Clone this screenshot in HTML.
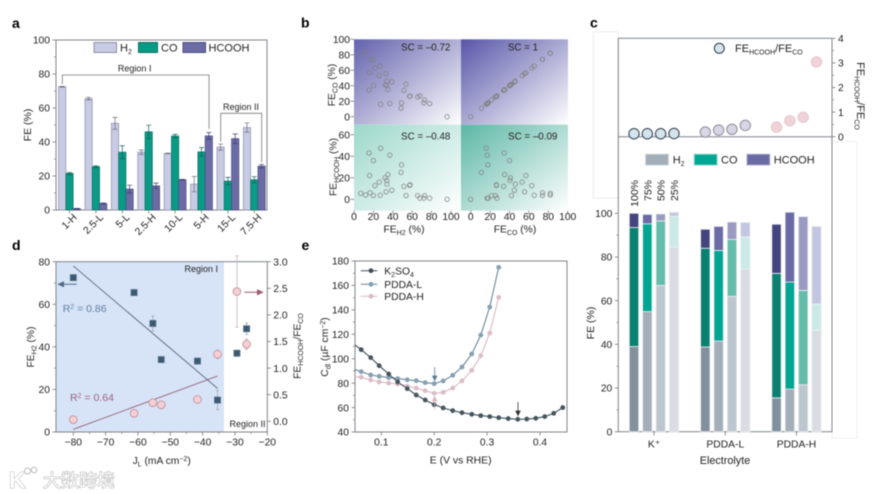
<!DOCTYPE html>
<html lang="en">
<head>
<meta charset="utf-8">
<title>Electrocatalysis figure panels</title>
<style>
html,body{margin:0;padding:0;background:#fff;width:875px;height:494px;overflow:hidden}
svg{display:block;filter:blur(0.5px)}
text{font-family:"Liberation Sans","Noto Sans CJK SC",sans-serif;fill:#222;font-size:10px}
.pl{font-weight:bold;font-size:14px;fill:#000}
.sub{font-size:7px}
.frame{fill:none;stroke:#7f8489;stroke-width:1}
</style>
</head>
<body>
<svg id="fig" xmlns="http://www.w3.org/2000/svg" width="875" height="494" viewBox="0 0 875 494">
<defs>
<linearGradient id="gTL" x1="0" y1="0" x2="1" y2="1"><stop offset="0" stop-color="#6462ad"/><stop offset="1" stop-color="#fff"/></linearGradient>
<linearGradient id="gTR" x1="0" y1="0" x2="1" y2="1"><stop offset="0" stop-color="#5856a8"/><stop offset="1" stop-color="#fff"/></linearGradient>
<linearGradient id="gBL" x1="0" y1="0" x2="1" y2="1"><stop offset="0" stop-color="#9dd8cb"/><stop offset="1" stop-color="#fff"/></linearGradient>
<linearGradient id="gBR" x1="0" y1="0" x2="1" y2="1"><stop offset="0" stop-color="#5cb7a5"/><stop offset="1" stop-color="#fff"/></linearGradient>
<clipPath id="clipE"><rect x="355" y="261" width="212" height="171"/></clipPath>
</defs>

<!-- Panel labels -->
<text class="pl" x="12" y="28">a</text>
<text class="pl" x="301" y="27.5">b</text>
<text class="pl" x="590" y="27.5">c</text>
<text class="pl" x="12" y="250">d</text>
<text class="pl" x="301.5" y="250">e</text>

<!-- Panel a -->
<g id="panelA">
<rect class="frame" x="56" y="40" width="211" height="170"/>
<text transform="translate(31,125) rotate(-90)" text-anchor="middle" style="font-size:10.5px">FE (%)</text>
<rect x="94" y="42.5" width="22.5" height="10" fill="#c8cbe4" stroke="#8d90a8"/>
<text x="120" y="51.5" style="font-size:11px">H<tspan class="sub" dy="2.5">2</tspan></text>
<rect x="138.5" y="42.5" width="19" height="10" fill="#0a9b86" stroke="#0d6e60"/>
<text x="161" y="51.5" style="font-size:11px">CO</text>
<rect x="183" y="42.5" width="22.5" height="10" fill="#6b6ca6" stroke="#4d4d80"/>
<text x="208.5" y="51.5" style="font-size:11px">HCOOH</text>
<path d="M62.3 84.3V75H209V129" fill="none" stroke="#777" stroke-width="0.8"/>
<path d="M220.7 141.7V113.3H261.7V162.3" fill="none" stroke="#777" stroke-width="0.8"/>
<text x="134.7" y="71.3" text-anchor="middle" style="font-size:9px">Region I</text>
<text x="241" y="110" text-anchor="middle" style="font-size:9px">Region II</text>
</g>

<!-- Panel b -->
<g id="panelB">
<rect x="354" y="39.3" width="107" height="85.4" fill="url(#gTL)"/>
<rect x="461" y="39.3" width="107" height="85.4" fill="url(#gTR)"/>
<rect x="354" y="124.7" width="107" height="86" fill="url(#gBL)"/>
<rect x="461" y="124.7" width="107" height="86" fill="url(#gBR)"/>
<text x="425.7" y="50.7" text-anchor="middle" style="font-size:9.8px">SC = –0.72</text>
<text x="523" y="50.7" text-anchor="middle" style="font-size:9.8px">SC = 1</text>
<text x="425.7" y="139.3" text-anchor="middle" style="font-size:9.8px">SC = –0.48</text>
<text x="532.7" y="139.3" text-anchor="middle" style="font-size:9.8px">SC = –0.09</text>
<text x="404" y="232.5" text-anchor="middle" style="font-size:10.3px">FE<tspan class="sub" dy="2.5">H2</tspan><tspan dy="-2.5"> (%)</tspan></text>
<text x="515" y="232.5" text-anchor="middle" style="font-size:10.3px">FE<tspan class="sub" dy="2.5">CO</tspan><tspan dy="-2.5"> (%)</tspan></text>
<text transform="translate(335,85) rotate(-90)" text-anchor="middle" style="font-size:10.3px">FE<tspan class="sub" dy="2.5">CO</tspan><tspan dy="-2.5"> (%)</tspan></text>
<text transform="translate(336.5,167) rotate(-90)" text-anchor="middle" style="font-size:10.3px">FE<tspan class="sub" dy="2.5">HCOOH</tspan><tspan dy="-2.5"> (%)</tspan></text>
</g>

<!-- Panel c -->
<g id="panelC">
<rect x="593.3" y="31.7" width="25" height="166.3" fill="none" stroke="#ececec"/>
<rect x="832" y="141.7" width="25" height="296.3" fill="none" stroke="#f0f0f0"/>
<rect class="frame" x="618.3" y="38.3" width="213.7" height="393.4"/>
<line class="frame" x1="618.3" y1="136.7" x2="832" y2="136.7"/>
<circle cx="719.3" cy="48.3" r="5" fill="#d5e3ea" stroke="#2d3e50"/>
<text x="735" y="52" style="font-size:11px">FE<tspan class="sub" dy="2.5">HCOOH</tspan><tspan dy="-2.5">/FE</tspan><tspan class="sub" dy="2.5">CO</tspan></text>
<text transform="translate(857,96) rotate(90)" text-anchor="middle" style="font-size:11px">FE<tspan class="sub" dy="2.5">HCOOH</tspan><tspan dy="-2.5">/FE</tspan><tspan class="sub" dy="2.5">CO</tspan></text>
<rect x="645.7" y="154.3" width="22.6" height="10.7" fill="#a3aeb8" stroke="#c5ccd3"/>
<text x="672.7" y="163.5" style="font-size:11px">H<tspan class="sub" dy="2.5">2</tspan></text>
<rect x="694.3" y="154.3" width="22.7" height="10.7" fill="#00a692" stroke="#7fcfc4"/>
<text x="721" y="163.5" style="font-size:11px">CO</text>
<rect x="747" y="154.3" width="22.7" height="10.7" fill="#6a6aa4" stroke="#a8a8cc"/>
<text x="773.7" y="163.5" style="font-size:11px">HCOOH</text>
<text transform="translate(594,323) rotate(-90)" text-anchor="middle" style="font-size:10.5px">FE (%)</text>
<text x="725" y="464" text-anchor="middle" style="font-size:10.8px">Electrolyte</text>
</g>

<!-- Panel d -->
<g id="panelD">
<rect x="56" y="261.7" width="168" height="170.3" fill="#d7e4f8"/>
<rect class="frame" x="56" y="261.7" width="211.3" height="170.3"/>
<text x="218" y="272" text-anchor="end" style="font-size:9px">Region I</text>
<text x="265.5" y="427" text-anchor="end" style="font-size:9px">Region II</text>
<text x="62.7" y="312" style="font-size:10.5px;fill:#5f7f9f">R<tspan class="sub" dy="-3">2</tspan><tspan dy="3"> = 0.86</tspan></text>
<text x="70" y="401" style="font-size:10.5px;fill:#9c5f7f">R<tspan class="sub" dy="-3">2</tspan><tspan dy="3"> = 0.64</tspan></text>
<path d="M76.7 284.3H60M63.5 282L58.5 284.3L63.5 286.6Z" fill="#4d6a85" stroke="#4d6a85"/>
<path d="M244.3 292.3H261M257.5 290L262.5 292.3L257.5 294.6Z" fill="#9b5a70" stroke="#9b5a70"/>
<text transform="translate(34,347) rotate(-90)" text-anchor="middle" style="font-size:10.3px">FE<tspan class="sub" dy="2.5">H2</tspan><tspan dy="-2.5"> (%)</tspan></text>
<text transform="translate(300.5,346) rotate(-90)" text-anchor="middle" style="font-size:10.3px">FE<tspan class="sub" dy="2.5">HCOOH</tspan><tspan dy="-2.5">/FE</tspan><tspan class="sub" dy="2.5">CO</tspan></text>
<text x="161.7" y="464" text-anchor="middle" style="font-size:10.3px">J<tspan class="sub" dy="2.5">L</tspan><tspan dy="-2.5"> (mA cm</tspan><tspan class="sub" dy="-3">−2</tspan><tspan dy="3">)</tspan></text>
</g>

<!-- Panel e -->
<g id="panelE">
<rect class="frame" x="355" y="261" width="212" height="171"/>
<text transform="translate(328,347) rotate(-90)" text-anchor="middle" style="font-size:10.3px">C<tspan class="sub" dy="2.5">dl</tspan><tspan dy="-2.5"> (µF cm</tspan><tspan class="sub" dy="-3">−2</tspan><tspan dy="3">)</tspan></text>
<text x="460.7" y="463.5" text-anchor="middle" style="font-size:10.4px">E (V vs RHE)</text>
<text x="384.3" y="274.5" style="font-size:10.3px">K<tspan class="sub" dy="2.5">2</tspan><tspan dy="-2.5">SO</tspan><tspan class="sub" dy="2.5">4</tspan></text>
<text x="384.3" y="288" style="font-size:10.3px">PDDA-L</text>
<text x="384.3" y="300" style="font-size:10.3px">PDDA-H</text>
<path d="M360.7 270.7H377.3" stroke="#3f4f5c"/>
<circle cx="371" cy="270.7" r="2.4" fill="#3f4f5c"/>
<path d="M360.7 284.3H377.3" stroke="#6a8799"/>
<circle cx="371" cy="284.3" r="2.4" fill="#85a0b2"/>
<path d="M360.7 296.3H377.3" stroke="#d9b9c2"/>
<circle cx="371" cy="296.3" r="2.4" fill="#d9b9c2"/>
</g>

<!-- Watermark -->
<g>
<text x="9" y="488" style="font-size:23px;font-weight:bold;fill:#fff;stroke:#bbb;stroke-width:1.1;paint-order:stroke">K</text>
<circle cx="27.5" cy="471" r="3" fill="#fff" stroke="#bbb"/>
<circle cx="34" cy="470" r="2.8" fill="#fff" stroke="#bbb"/>
<text x="43" y="487" style="font-size:18px;fill:#fff;stroke:#b4b4b4;stroke-width:1.1;paint-order:stroke">大数跨境</text>
</g>
</svg>

<script>
/* ---------- Panel a data ---------- */
const aCategories = ['1-H','2.5-L','5-L','2.5-H','10-L','5-H','15-L','7.5-H'];
const aH2 = [72.5,65.5,51,34,33.3,15.2,37,48.5];
const aCO = [21.5,25.5,34,46,43.5,34.2,17,17.8];
const aHCOOH = [0.8,3.8,12.3,14.2,17.8,43.6,42,25.8];
const aH2Err = [0.2,0.8,3.5,1.3,0.2,4.5,1.8,2.7];
const aCOErr = [0.6,0.5,3.8,3.9,1,2.5,2.2,1.8];
const aHCOOHErr = [0.2,0.3,2.3,1.6,0.2,2,2.8,1];
const aYTicks = [0,20,40,60,80,100];

/* ---------- Panel b data ---------- */
const bFeH2 = [7,12,16.5,20,16,21.6,27,26,33,34,32,39,33.7,35,15.5,20,27.5,37,53.6,51.5,49,48.5,57.4,57.8,65.6,68,72.8,72,78,96];
const bFeCO = [82,82,74,74,57,63,65.5,53,55.6,46,41,45,40.5,35,34.5,40,16,17,42,34,17.7,11,26.5,26.5,25.5,27,21.5,18,17,0];
const bFeHCOOH = [5.6,4,6,3.5,22,12.7,3.7,16,7,14,20,8.4,17.5,23,43,36,47.5,41,3.5,12,32,25,13,13.5,3.5,1,3.5,1,1,0];
const bXTicks = [0,20,40,60,80,100];
const bYTicksTop = [0,20,40,60,80,100];
const bYTicksBottom = [0,20,40,60];

/* ---------- Panel c data ---------- */
const cGroups = ['K⁺','PDDA-L','PDDA-H'];
const cLoadings = ['100%','75%','50%','25%'];
const cH2 = [[39,55,67,84.5],[38.8,41.5,62,74.5],[15.5,19.5,21.5,46.5]];
const cCO = [[54.5,40.2,29.5,14.2],[45.2,41.5,26,14.7],[57,49,43.2,12]];
const cHCOOH = [[6.5,4.3,3.2,1.8],[8.7,11,8,6.6],[22.5,32,33.8,35.5]];
const cRatio = [[0.12,0.12,0.12,0.13],[0.19,0.27,0.3,0.46],[0.39,0.65,0.79,3.04]];
const cRatioTicks = [0,1,2,3,4];
const cFeTicks = [0,20,40,60,80,100];

/* ---------- Panel d data ---------- */
const dJL = [-80,-61.2,-55.4,-52.8,-41.6,-35.4,-29.4,-26.4];
const dFeH2 = [72.5,65.5,51,34,33.3,15,37,48.5];
const dFeH2Err = [0.5,0.8,3.5,1.3,0.5,4.5,1,2.7];
const dRatio = [0.03,0.15,0.35,0.31,0.41,1.26,2.44,1.45];
const dRatioErr = [0.02,0.05,0.03,0.03,0.05,0.08,0.67,0.1];
const dFitH2J = [-80,-35.4];
const dFitH2 = [78,20.5];
const dFitRatioJ = [-80,-35.4];
const dFitRatio = [-0.15,0.85];
const dXTicks = [-80,-70,-60,-50,-40,-30,-20];
const dYLeftTicks = [0,20,40,60,80];
const dYRightTicks = [0,0.5,1,1.5,2,2.5,3];

/* ---------- Panel e data ---------- */
const eK2E = [0.045,0.062,0.08,0.096,0.114,0.131,0.149,0.166,0.183,0.2,0.217,0.235,0.2525,0.271,0.288,0.305,0.322,0.34,0.358,0.375,0.392,0.409,0.426,0.443];
const eK2 = [113,107.4,100.9,94.3,87.5,81,75.5,70.3,66.2,62.4,59.7,57.5,55.8,54.5,53.4,52.6,51.7,51,50.4,50.6,51.2,52.6,55.3,60];
const ePddaE = [0.045,0.062,0.08,0.096,0.114,0.131,0.149,0.166,0.183,0.2,0.217,0.235,0.2525,0.271,0.288,0.305,0.322];
const ePddaL = [92,89.4,86.7,85.6,84.5,83.7,82.8,82,80.4,79.6,81.8,86.4,93.2,103.9,119.4,142.3,174.8];
const ePddaH = [86,84.8,82.6,81,80,79.3,77.5,76,73.8,71.7,72.5,76,81.8,90.5,102.5,121,150.3];
const eXTicks = [0.1,0.2,0.3,0.4];
const eYTicks = [40,60,80,100,120,140,160,180];

/* ---------- helpers ---------- */
const NS = 'http://www.w3.org/2000/svg';
function mk(tag, attrs, parent, text) {
  const el = document.createElementNS(NS, tag);
  for (const k in attrs) el.setAttribute(k, attrs[k]);
  if (text !== undefined) el.textContent = text;
  parent.appendChild(el);
  return el;
}
function linear(d0, d1, r0, r1) {
  return v => r0 + (v - d0) * (r1 - r0) / (d1 - d0);
}
const TICK = '#777';
function yTicks(parent, vals, scale, axisX, dir, fmt, minorStep, gap) {
  const labelGap = gap || 6;
  vals.forEach(v => {
    const y = scale(v);
    const t = mk('line', {x1: axisX, x2: axisX + dir * 3.5, y1: y, y2: y, stroke: TICK, 'stroke-width': 0.8}, parent);
    
    
    const lab = mk('text', {x: axisX + dir * labelGap, y: y + 3.7, 'text-anchor': dir < 0 ? 'end' : 'start', style: 'font-size:10.3px'}, parent, fmt ? fmt(v) : String(v));
    
    
    if (minorStep && v !== vals[vals.length - 1]) {
      const ym = scale(v + minorStep);
      const m = mk('line', {x1: axisX, x2: axisX + dir * 2, y1: ym, y2: ym, stroke: TICK, 'stroke-width': 0.7}, parent);
      
      
    }
  });
}
function xTicks(parent, vals, scale, axisY, labelY, fmt, minorStep) {
  vals.forEach((v, i) => {
    const x = scale(v);
    const t = mk('line', {x1: x, x2: x, y1: axisY, y2: axisY + 3.5, stroke: TICK, 'stroke-width': 0.8}, parent);
    
    
    const lab = mk('text', {x: x, y: labelY, 'text-anchor': 'middle', style: 'font-size:10.3px'}, parent, fmt ? fmt(v) : String(v));
    
    
    if (minorStep && i < vals.length - 1) {
      const xm = scale(v + minorStep);
      const m = mk('line', {x1: xm, x2: xm, y1: axisY, y2: axisY + 2, stroke: TICK, 'stroke-width': 0.7}, parent);
      
      
    }
  });
}
function errorBar(parent, x, yHi, yLo, color, cap) {
  const e = mk('path', {d: `M${x - cap} ${yHi}H${x + cap}M${x} ${yHi}V${yLo}M${x - cap} ${yLo}H${x + cap}`, fill: 'none', stroke: color, 'stroke-width': 0.7}, parent);
  
  
}

/* ---------- Panel a ---------- */
(function () {
  const g = document.getElementById('panelA');
  const y = linear(0, 100, 210, 40);
  const x = i => 69.5 + 26.4 * i;
  yTicks(g, aYTicks, y, 56, -1, null, 10);
  const w = 7.3;
  aCategories.forEach((c, i) => {
    const cx = x(i);
    const h2 = mk('rect', {x: cx - 1.5 * w, y: y(aH2[i]), width: w, height: y(0) - y(aH2[i]), fill: '#c8cbe4', stroke: '#8d90a8', 'stroke-width': 0.7}, g);
    
    
    const co = mk('rect', {x: cx - 0.5 * w, y: y(aCO[i]), width: w, height: y(0) - y(aCO[i]), fill: '#0a9b86', stroke: '#0d6e60', 'stroke-width': 0.7}, g);
    
    
    const hc = mk('rect', {x: cx + 0.5 * w, y: y(aHCOOH[i]), width: w, height: y(0) - y(aHCOOH[i]), fill: '#6b6ca6', stroke: '#4d4d80', 'stroke-width': 0.7}, g);
    
    
    errorBar(g, cx - w, y(aH2[i] + aH2Err[i]), y(aH2[i] - aH2Err[i]), '#6c6f80', 2.5);
    errorBar(g, cx, y(aCO[i] + aCOErr[i]), y(aCO[i] - aCOErr[i]), '#0f5f55', 2.5);
    errorBar(g, cx + w, y(aHCOOH[i] + aHCOOHErr[i]), y(aHCOOH[i] - aHCOOHErr[i]), '#3d3d70', 2.5);
    const t = mk('line', {x1: cx, x2: cx, y1: 210, y2: 213.5, stroke: TICK, 'stroke-width': 0.8}, g);
    
    
    const lab = mk('text', {transform: `translate(${cx + 8},${218}) rotate(-45)`, 'text-anchor': 'end', style: 'font-size:10.3px'}, g, c);
    
    
  });
})();

/* ---------- Panel b ---------- */
(function () {
  const g = document.getElementById('panelB');
  const xL = linear(0, 100, 354, 451);
  const xR = linear(0, 100, 470.7, 567.7);
  const yT = linear(0, 100, 116.7, 39.3);
  const yB = linear(0, 60, 199.3, 134.7);
  const ptStyle = {r: 2.2, fill: 'none', stroke: '#7f7f7f', 'stroke-width': 0.75};
  bFeH2.forEach((v, i) => {
    const p1 = mk('circle', Object.assign({cx: xL(bFeH2[i]), cy: yT(bFeCO[i])}, ptStyle), g);
    
    
    const p2 = mk('circle', Object.assign({cx: xR(bFeCO[i]), cy: yT(bFeCO[i])}, ptStyle), g);
    
    
    const p3 = mk('circle', Object.assign({cx: xL(bFeH2[i]), cy: yB(bFeHCOOH[i])}, ptStyle), g);
    
    
    const p4 = mk('circle', Object.assign({cx: xR(bFeCO[i]), cy: yB(bFeHCOOH[i])}, ptStyle), g);
    
    
  });
  yTicks(g, bYTicksTop, yT, 354, -1, null, null, 4);
  yTicks(g, bYTicksBottom, yB, 354, -1, null, null, 4);
  xTicks(g, bXTicks, xL, 210.7, 219.8);
  xTicks(g, bXTicks, xR, 210.7, 219.8);
})();

/* ---------- Panel c ---------- */
(function () {
  const g = document.getElementById('panelC');
  const yF = linear(0, 100, 431.7, 213.3);
  const yR = linear(0, 4, 136.7, 38.3);
  const groupX = [654, 725.3, 796.5];
  const offs = [-20, -6.67, 6.67, 20];
  const x = (gi, bi) => groupX[gi] + offs[bi];
  const h2Col = ['#82909e', '#a3aeb8', '#bcc6cf', '#d9dde2'];
  const coCol = ['#0a8170', '#00a692', '#64bcab', '#cbeae6'];
  const hcCol = ['#44447f', '#6a6aa4', '#9a9ac2', '#c3c6e0'];
  const edge = '#eceef2';
  const w = 9.4;
  const ratioFill = ['#d5e3ea', '#d8d6e2', '#f0d3d9'];
  const ratioStroke = ['#2d3e50', '#8d8d9f', '#e6c6ce'];
  cGroups.forEach((name, gi) => {
    cLoadings.forEach((load, bi) => {
      const cx = x(gi, bi);
      const top1 = cH2[gi][bi];
      const top2 = top1 + cCO[gi][bi];
      const top3 = top2 + cHCOOH[gi][bi];
      const b1 = mk('rect', {x: cx - w / 2, y: yF(top1), width: w, height: yF(0) - yF(top1), fill: h2Col[bi], stroke: edge, 'stroke-width': 0.8}, g);
      
      
      const b2 = mk('rect', {x: cx - w / 2, y: yF(top2), width: w, height: yF(top1) - yF(top2), fill: coCol[bi], stroke: edge, 'stroke-width': 0.8}, g);
      
      
      const b3 = mk('rect', {x: cx - w / 2, y: yF(top3), width: w, height: yF(top2) - yF(top3), fill: hcCol[bi], stroke: edge, 'stroke-width': 0.8}, g);
      
      
      const r = mk('circle', {cx: cx, cy: yR(cRatio[gi][bi]), r: 5.2, fill: ratioFill[gi], stroke: ratioStroke[gi], 'stroke-width': 1}, g);
      
      
      if (gi === 0) {
        const l = mk('text', {transform: `translate(${cx + 4},180) rotate(-90)`, 'text-anchor': 'end', style: 'font-size:10.5px'}, g, load);
        
        
      }
    });
    const t = mk('line', {x1: groupX[gi], x2: groupX[gi], y1: 431.7, y2: 435.5, stroke: TICK, 'stroke-width': 0.8}, g);
    
    
    const lab = mk('text', {x: groupX[gi], y: 447.5, 'text-anchor': 'middle', style: 'font-size:10.3px'}, g, name);
    
    
  });
  yTicks(g, cFeTicks, yF, 618.3, -1, null, 10);
  yTicks(g, cRatioTicks, yR, 832, 1, null, 0.5);
})();

/* ---------- Panel d ---------- */
(function () {
  const g = document.getElementById('panelD');
  const x = linear(-80, -20, 73.3, 267.3);
  const yL = linear(0, 80, 432, 261.7);
  const yR = linear(0, 3, 421.3, 261.7);
  dJL.forEach((j, i) => {
    errorBar(g, x(j), yL(dFeH2[i] + dFeH2Err[i]), yL(dFeH2[i] - dFeH2Err[i]), '#9aa3ab', 1.5);
    errorBar(g, x(j), yR(dRatio[i] + dRatioErr[i]), yR(dRatio[i] - dRatioErr[i]), '#b7aeb2', 1.5);
  });
  const fit1 = mk('line', {x1: x(dFitH2J[0]), y1: yL(dFitH2[0]), x2: x(dFitH2J[1]), y2: yL(dFitH2[1]), stroke: '#55687f', 'stroke-width': 0.9}, g);
  
  
  const fit2 = mk('line', {x1: x(dFitRatioJ[0]), y1: yR(dFitRatio[0]), x2: x(dFitRatioJ[1]), y2: yR(dFitRatio[1]), stroke: '#94607a', 'stroke-width': 0.9}, g);
  
  
  dJL.forEach((j, i) => {
    const c = mk('circle', {cx: x(j), cy: yR(dRatio[i]), r: 3.9, fill: '#f6cfd5', stroke: '#b98a95', 'stroke-width': 0.8}, g);
    
    
    const s = mk('rect', {x: x(j) - 3.2, y: yL(dFeH2[i]) - 3.2, width: 6.4, height: 6.4, fill: '#3d5a73', stroke: '#6d8499', 'stroke-width': 0.5}, g);
    
    
  });
  xTicks(g, dXTicks, x, 432, 445.7, v => String(v).replace('-', '−'), 5);
  yTicks(g, dYLeftTicks, yL, 56, -1, null, 10);
  yTicks(g, dYRightTicks, yR, 267.3, 1, v => v.toFixed(1));
})();

/* ---------- Panel e ---------- */
(function () {
  const g = document.getElementById('panelE');
  const x = linear(0.1, 0.4, 381.3, 540);
  const y = linear(40, 180, 432, 261);
  const clip = mk('g', {'clip-path': 'url(#clipE)'}, g);
  
  
  function path(es, vs) {
    return es.map((e, i) => (i ? 'L' : 'M') + x(e).toFixed(1) + ' ' + y(vs[i]).toFixed(1)).join('');
  }
  const l3 = mk('path', {d: path(ePddaE, ePddaH), fill: 'none', stroke: '#d9b9c2', 'stroke-width': 1.1}, clip);
  
  
  const l2 = mk('path', {d: path(ePddaE, ePddaL), fill: 'none', stroke: '#6a8799', 'stroke-width': 1.1}, clip);
  
  
  const l1 = mk('path', {d: path(eK2E, eK2), fill: 'none', stroke: '#3f4f5c', 'stroke-width': 1.1}, clip);
  
  
  ePddaE.forEach((e, i) => {
    if (i === 0) return;
    const h = mk('circle', {cx: x(e), cy: y(ePddaH[i]), r: 2.4, fill: '#dcbcc5'}, clip);
    
    
    const l = mk('circle', {cx: x(e), cy: y(ePddaL[i]), r: 2.4, fill: '#85a0b2'}, clip);
    
    
  });
  eK2E.forEach((e, i) => {
    if (i === 0) return;
    const k = mk('circle', {cx: x(e), cy: y(eK2[i]), r: 2.4, fill: '#46565f'}, clip);
    
    
  });
  const a1 = mk('path', {d: 'M434.7 367V379M432.5 376L434.7 380.5L436.9 376Z', fill: '#5b7b90', stroke: '#5b7b90', 'stroke-width': 0.8}, g);
  
  
  const a2 = mk('path', {d: 'M434.7 410V398M432.5 401L434.7 396.5L436.9 401Z', fill: '#dcb4c0', stroke: '#dcb4c0', 'stroke-width': 0.8}, g);
  
  
  const a3 = mk('path', {d: 'M518 402V414M515.8 411L518 415.5L520.2 411Z', fill: '#333', stroke: '#333', 'stroke-width': 0.8}, g);
  
  
  xTicks(g, eXTicks, x, 432, 445.7, v => v.toFixed(1));
  yTicks(g, eYTicks, y, 355, -1, null, 10);
})();
</script>
</body>
</html>
